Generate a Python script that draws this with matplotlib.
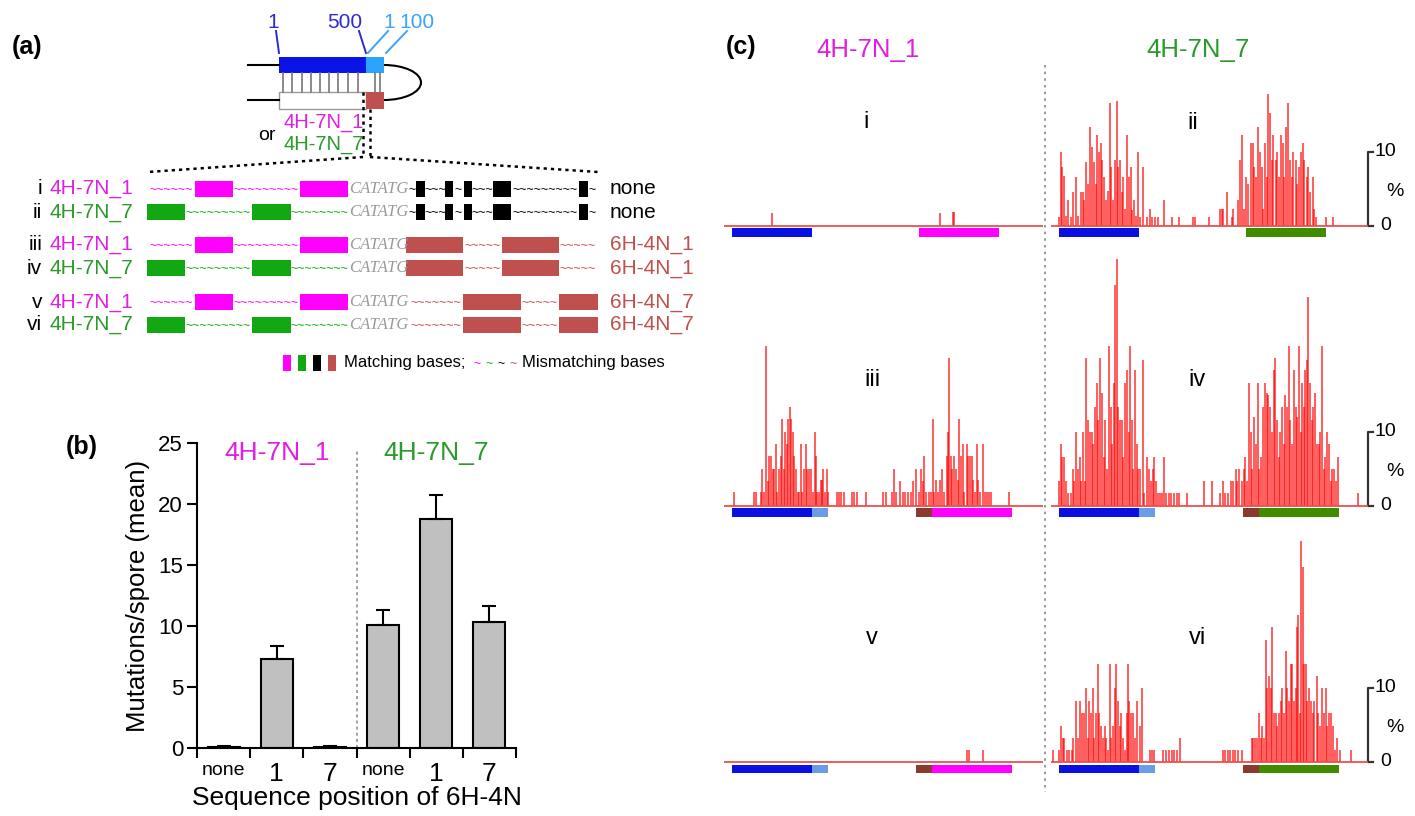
import numpy as np
import matplotlib
matplotlib.use('Agg')
import matplotlib.pyplot as plt
from matplotlib.patches import Rectangle, Arc

plt.rcParams['font.family'] = ['Liberation Sans', 'DejaVu Sans']

W, H = 1415, 816
fig = plt.figure(figsize=(W / 100, H / 100), dpi=100)

# ------------------------------------------------------------------ data (b)
b_categories = ['none', '1', '7', 'none', '1', '7']
b_groups = ['4H-7N_1', '4H-7N_7']
b_means = [0.1, 7.3, 0.1, 10.05, 18.8, 10.35]
b_err = [0.05, 1.1, 0.05, 1.25, 1.9, 1.25]

# ------------------------------------------------------------------ data (c)  (position in bp, mutation %)
i_pos = [250, 1300, 1383, 1390]
i_h = [1.7, 1.7, 1.9, 1.9]

ii_pos = [0, 12, 21, 33, 44, 56, 75, 90, 106, 117, 135, 148, 158, 169, 179, 194, 206, 219, 229, 240,
          250, 260, 271, 283, 294, 304, 319, 327, 339, 350, 362, 371, 381, 392, 402, 415, 427, 437, 448, 458,
          471, 481, 492, 506, 523, 552, 571, 583, 600, 621, 658, 704, 752, 840, 850, 940, 1008, 1017, 1027, 1048,
          1079, 1090, 1117, 1131, 1146, 1156, 1169, 1183, 1198, 1210, 1221, 1231, 1246, 1256, 1267, 1277, 1287, 1298, 1306, 1319,
          1329, 1340, 1354, 1365, 1377, 1385, 1398, 1408, 1419, 1429, 1442, 1454, 1465, 1479, 1490, 1502, 1513, 1523, 1533, 1548,
          1558, 1569, 1585, 1596, 1606, 1667, 1715]
ii_h = [1.2, 10.0, 7.9, 6.7, 1.3, 3.5, 1.2, 4.5, 6.6, 1.3, 4.5, 4.5, 3.5, 8.6, 5.6, 13.4, 10.6, 8.6, 5.6, 12.3,
        10.0, 11.2, 8.9, 6.6, 3.5, 4.7, 16.6, 8.0, 3.5, 8.9, 16.8, 8.0, 8.9, 4.5, 6.6, 2.3, 12.3, 6.6, 7.9, 2.1,
        3.5, 1.3, 10.0, 1.2, 7.9, 1.2, 2.3, 1.2, 1.2, 1.2, 3.5, 1.2, 1.2, 1.2, 1.2, 1.2, 2.3, 2.3, 2.3, 4.6,
        1.2, 2.3, 3.5, 8.9, 12.3, 2.3, 6.6, 5.6, 11.2, 11.2, 7.9, 6.6, 13.4, 10.0, 7.9, 2.3, 11.2, 6.6, 17.8, 15.2,
        8.9, 12.3, 8.9, 10.0, 6.6, 12.3, 11.2, 6.6, 13.4, 16.6, 8.9, 6.6, 10.0, 8.9, 5.6, 7.9, 10.0, 11.2, 8.9, 6.6,
        7.9, 4.5, 6.6, 2.3, 1.2, 1.2, 1.2]

iii_pos = [12, 140, 148, 183, 190, 202, 212, 223, 233, 242, 254, 265, 273, 283, 292, 304, 315, 325, 333, 342,
           352, 362, 371, 379, 390, 400, 410, 421, 429, 440, 450, 460, 471, 479, 492, 504, 517, 525, 533, 544,
           554, 562, 571, 581, 592, 602, 658, 669, 681, 700, 752, 764, 779, 835, 946, 960, 998, 1012, 1023, 1050,
           1067, 1083, 1100, 1117, 1133, 1150, 1167, 1181, 1192, 1202, 1212, 1229, 1242, 1254, 1264, 1275, 1289, 1300, 1312, 1325,
           1342, 1352, 1356, 1367, 1377, 1387, 1400, 1410, 1421, 1431, 1442, 1452, 1467, 1477, 1487, 1498, 1508, 1521, 1531, 1539,
           1550, 1567, 1583, 1596, 1608, 1619, 1731]
iii_h = [1.8, 1.8, 1.8, 1.8, 5.0, 1.8, 21.6, 3.3, 6.7, 6.7, 5.0, 5.0, 8.3, 1.8, 5.0, 6.7, 11.7, 5.0, 10.0, 8.3,
         11.7, 13.4, 11.7, 10.0, 6.7, 5.0, 1.8, 1.8, 8.3, 1.8, 5.0, 8.3, 5.0, 5.0, 5.0, 1.8, 10.0, 6.7, 1.8, 1.8,
         3.5, 3.5, 5.0, 1.8, 5.0, 1.8, 1.8, 1.8, 1.8, 1.8, 1.8, 1.8, 1.8, 1.8, 1.8, 1.8, 1.8, 5.0, 1.8, 3.3,
         1.8, 1.8, 1.8, 1.8, 3.3, 5.0, 1.8, 5.0, 3.3, 6.7, 1.8, 1.8, 1.8, 11.7, 1.8, 3.5, 1.8, 3.5, 5.0, 1.8,
         6.7, 10.0, 20.0, 6.7, 5.0, 6.7, 5.0, 3.5, 11.7, 6.7, 8.3, 1.8, 8.3, 6.7, 6.7, 6.7, 3.5, 1.8, 8.3, 3.5,
         1.8, 8.3, 1.8, 1.8, 1.8, 1.8, 1.8]

iv_pos = [0, 10, 21, 31, 44, 58, 73, 85, 96, 106, 119, 129, 140, 150, 160, 171, 181, 192, 204, 215,
          225, 235, 246, 258, 269, 279, 290, 300, 312, 323, 331, 342, 352, 360, 371, 381, 392, 402, 415, 425,
          435, 444, 454, 464, 475, 485, 494, 506, 523, 533, 548, 560, 573, 585, 596, 606, 619, 631, 644, 656,
          669, 685, 702, 719, 735, 752, 798, 906, 954, 1006, 1027, 1037, 1058, 1075, 1089, 1104, 1114, 1127, 1141, 1154,
          1164, 1175, 1187, 1198, 1208, 1219, 1231, 1242, 1252, 1264, 1275, 1285, 1298, 1308, 1319, 1329, 1341, 1352, 1362, 1373,
          1383, 1394, 1404, 1414, 1425, 1435, 1446, 1456, 1469, 1479, 1489, 1500, 1510, 1521, 1529, 1539, 1548, 1558, 1569, 1579,
          1589, 1600, 1610, 1623, 1633, 1644, 1654, 1664, 1675, 1685, 1698, 1708, 1719, 1729, 1741, 1870]
iv_h = [3.4, 8.4, 6.6, 6.6, 3.4, 1.7, 1.7, 5.0, 3.4, 10.0, 5.0, 6.6, 3.4, 10.0, 3.4, 19.9, 11.6, 10.0, 10.0, 8.4,
        13.4, 16.6, 11.6, 19.9, 15.2, 6.6, 11.6, 5.0, 21.6, 13.4, 8.4, 16.6, 29.8, 33.3, 13.4, 11.6, 11.6, 6.6, 16.6, 18.3,
        10.0, 21.6, 11.6, 5.0, 18.3, 8.4, 5.0, 5.0, 19.7, 1.7, 6.6, 5.0, 3.4, 5.0, 6.6, 3.4, 1.7, 1.7, 1.7, 6.6,
        1.7, 1.7, 1.7, 1.7, 1.7, 1.7, 1.7, 3.4, 3.4, 1.7, 3.4, 1.7, 1.7, 3.4, 3.4, 5.0, 3.4, 5.0, 3.4, 5.0,
        6.6, 3.4, 16.6, 10.0, 5.0, 12.0, 8.4, 16.6, 5.0, 6.6, 13.4, 16.6, 15.2, 15.0, 13.4, 10.0, 18.3, 19.9, 11.6, 6.6,
        10.0, 13.4, 8.4, 15.0, 13.4, 21.6, 11.6, 8.4, 18.3, 13.4, 12.0, 21.6, 10.0, 16.6, 13.4, 18.3, 19.7, 28.2, 16.6, 11.6,
        13.4, 15.2, 8.4, 8.4, 10.0, 21.6, 5.0, 6.6, 10.0, 8.4, 3.4, 5.0, 5.0, 3.4, 6.6, 1.7]

v_pos = [1471, 1483, 1569]
v_h = [1.6, 1.6, 1.6]

vi_pos = [-35, 0, 12, 23, 33, 48, 65, 79, 90, 106, 121, 133, 144, 156, 169, 179, 187, 198, 210, 221,
          231, 242, 252, 262, 273, 285, 294, 304, 317, 327, 337, 348, 358, 369, 379, 390, 400, 412, 423, 429,
          440, 448, 460, 475, 490, 506, 521, 569, 583, 596, 652, 669, 685, 704, 721, 737, 758, 1023, 1037, 1054,
          1069, 1085, 1100, 1119, 1146, 1204, 1214, 1225, 1237, 1250, 1260, 1271, 1281, 1291, 1302, 1312, 1323, 1333, 1344, 1354,
          1364, 1375, 1385, 1396, 1406, 1416, 1427, 1437, 1448, 1458, 1468, 1479, 1487, 1496, 1504, 1512, 1525, 1533, 1541, 1552,
          1562, 1573, 1585, 1596, 1610, 1621, 1631, 1645, 1656, 1666, 1677, 1687, 1698, 1710, 1727, 1739, 1756, 1823]
vi_h = [1.6, 1.6, 4.9, 3.2, 3.2, 1.6, 1.6, 1.6, 3.2, 8.3, 3.2, 8.3, 6.6, 6.6, 10.0, 3.2, 8.3, 6.6, 10.0, 3.2,
        6.6, 13.3, 6.6, 4.9, 3.2, 4.9, 3.2, 1.6, 13.3, 3.2, 4.9, 10.0, 13.3, 8.3, 4.9, 6.6, 3.2, 1.6, 6.6, 13.3,
        8.3, 6.6, 6.6, 3.2, 8.3, 4.9, 10.0, 1.6, 1.6, 1.6, 1.6, 1.6, 1.6, 1.6, 1.6, 1.6, 3.2, 1.6, 1.6, 1.6,
        1.6, 1.6, 1.6, 1.6, 1.6, 3.2, 3.2, 3.2, 3.2, 6.6, 3.2, 4.9, 3.2, 16.5, 10.0, 11.6, 10.0, 18.3, 6.6, 6.6,
        4.9, 6.6, 8.3, 10.0, 6.6, 15.0, 10.0, 8.3, 13.3, 13.3, 8.3, 10.0, 18.3, 19.9, 6.6, 29.9, 26.4, 13.3, 13.3, 8.3,
        10.0, 8.3, 6.6, 8.3, 11.6, 6.6, 4.9, 10.0, 6.6, 10.0, 4.9, 6.6, 6.6, 4.9, 1.6, 3.2, 1.6, 1.6]

c_labels = ['i', 'ii', 'iii', 'iv', 'v', 'vi']
c_series = [(i_pos, i_h), (ii_pos, ii_h), (iii_pos, iii_h), (iv_pos, iv_h), (v_pos, v_h), (vi_pos, vi_h)]

# ------------------------------------------------------------------ colours
MAG = '#ff00ff'
MAG_T = '#e11fe1'
GRN = '#12a812'
GRN_T = '#2a9a2a'
BRK = '#c0504d'
BLUE = '#0a14e6'
LBLUE = '#2aa4ff'
C_BLUE = '#0a10e0'
C_LBLUE = '#6b9ce8'
C_BROWN = '#8b3a2f'
C_MAG = '#ff00ff'
C_GRN = '#3f8c00'
RED = '#ff0000'
BASE_RED = '#e8504c'


def px_axes(l, t, r, b):
    return fig.add_axes([l / W, 1 - b / H, (r - l) / W, (b - t) / H])


# ------------------------------------------------------------------ overlay (schematic / labels)
ov = fig.add_axes([0, 0, 1, 1])
ov.set_xlim(0, W)
ov.set_ylim(H, 0)
ov.axis('off')

ov.text(27, 47, '(a)', fontsize=18, fontweight='bold', ha='center', va='center')
ov.text(82, 447, '(b)', fontsize=18, fontweight='bold', ha='center', va='center')
ov.text(741, 47, '(c)', fontsize=18, fontweight='bold', ha='center', va='center')

# hairpin
ov.plot([248, 279], [65, 65], color='black', lw=1.5)
ov.plot([248, 279], [100, 100], color='black', lw=1.5)
ov.add_patch(Rectangle((279, 57), 87, 16, color=BLUE, lw=0))
ov.add_patch(Rectangle((366, 57), 18, 16, color=LBLUE, lw=0))
ov.add_patch(Rectangle((279, 92), 87, 17, facecolor='white', edgecolor='#9a9a9a', lw=1))
ov.add_patch(Rectangle((366, 92), 18, 17, color=BRK, lw=0))
ov.add_patch(Arc((384, 82.5), 74, 35, theta1=-90, theta2=90, color='black', lw=1.5))
for xr in [283, 292, 302, 311, 320, 329, 338, 348, 358, 375, 380]:
    ov.plot([xr, xr], [73, 92], color='#777777', lw=1.2)
ov.text(273, 22, '1', color='#2a2ad6', fontsize=15, ha='center', va='center')
ov.text(345, 22, '500', color='#2a2ad6', fontsize=15, ha='center', va='center')
ov.text(389, 22, '1', color='#3aa2ff', fontsize=15, ha='center', va='center')
ov.text(417, 22, '100', color='#3aa2ff', fontsize=15, ha='center', va='center')
ov.plot([276, 279], [31, 53], color='#2a2ad6', lw=1.4)
ov.plot([359, 366], [31, 53], color='#2a2ad6', lw=1.4)
ov.plot([388, 368], [31, 53], color='#3aa2ff', lw=1.4)
ov.plot([407, 386], [31, 53], color='#3aa2ff', lw=1.4)
ov.text(267, 135, 'or', fontsize=14, ha='center', va='center')
ov.text(283, 123, '4H-7N_1', color=MAG_T, fontsize=14.5, ha='left', va='center')
ov.text(283, 144, '4H-7N_7', color=GRN_T, fontsize=14.5, ha='left', va='center')
dot = (0, (1.3, 1.6))
ov.plot([363, 363], [92, 157], color='black', lw=1.8, ls=dot)
ov.plot([370, 370], [109, 157], color='black', lw=1.8, ls=dot)
ov.plot([363, 148], [157, 172], color='black', lw=1.8, ls=dot)
ov.plot([370, 598], [157, 172], color='black', lw=1.8, ls=dot)

# sequence rows
pat_4H1 = [('t', 148, 195), ('b', 195, 233), ('t', 233, 300), ('b', 300, 348)]
pat_4H7 = [('b', 147, 185), ('t', 185, 252), ('b', 252, 291), ('t', 291, 348)]
pat_none = [('t', 409, 416), ('b', 416, 425), ('t', 425, 445), ('b', 445, 453), ('t', 453, 464),
            ('b', 464, 472), ('t', 472, 493), ('b', 493, 511), ('t', 511, 579), ('b', 579, 588), ('t', 588, 597)]
pat_6H1 = [('b', 406, 463), ('t', 463, 502), ('b', 502, 559), ('t', 559, 597)]
pat_6H7 = [('t', 409, 463), ('b', 463, 521), ('t', 521, 559), ('b', 559, 598)]

a_rows = [('i', '4H-7N_1', 189, 'none'), ('ii', '4H-7N_7', 212, 'none'),
          ('iii', '4H-7N_1', 245, '6H-4N_1'), ('iv', '4H-7N_7', 268, '6H-4N_1'),
          ('v', '4H-7N_1', 302, '6H-4N_7'), ('vi', '4H-7N_7', 325, '6H-4N_7')]


def draw_pattern(pat, y, bcol, tcol):
    for kind, x0, x1 in pat:
        if kind == 'b':
            ov.add_patch(Rectangle((x0, y - 8), x1 - x0, 16, color=bcol, lw=0))
        else:
            n = max(1, int(round((x1 - x0) / 7.4)))
            ov.text((x0 + x1) / 2, y + 1, '~' * n, color=tcol, fontsize=9, ha='center', va='center')


for rn, left, y, right in a_rows:
    ov.text(42, y, rn, fontsize=15, ha='right', va='center')
    if left == '4H-7N_1':
        ov.text(50, y, left, color=MAG_T, fontsize=15, ha='left', va='center')
        draw_pattern(pat_4H1, y, MAG, MAG)
    else:
        ov.text(50, y, left, color=GRN_T, fontsize=15, ha='left', va='center')
        draw_pattern(pat_4H7, y, GRN, GRN)
    ov.text(349, y, 'CATATG', color='#9a9a9a', fontsize=12, fontstyle='italic',
            family=['Liberation Serif', 'DejaVu Serif'], ha='left', va='center')
    if right == 'none':
        draw_pattern(pat_none, y, 'black', 'black')
        ov.text(610, y, right, color='black', fontsize=15, ha='left', va='center')
    else:
        draw_pattern(pat_6H1 if right == '6H-4N_1' else pat_6H7, y, BRK, BRK)
        ov.text(610, y, right, color=BRK, fontsize=15, ha='left', va='center')

# legend of (a)
ly = 363
for xc, col in [(283, MAG), (298, GRN), (313, 'black'), (328, BRK)]:
    ov.add_patch(Rectangle((xc, ly - 8), 8, 16, color=col, lw=0))
ov.text(344, ly, 'Matching bases;', fontsize=12, ha='left', va='center')
for xc, col in [(477, MAG), (489, GRN), (501, 'black'), (513, BRK)]:
    ov.text(xc, ly + 1, '~', fontsize=9, color=col, ha='center', va='center')
ov.text(522, ly, 'Mismatching bases', fontsize=12, ha='left', va='center')

# ------------------------------------------------------------------ panel (b)
ax = px_axes(197, 443, 516, 748)
xb = np.arange(len(b_means))
ax.bar(xb, b_means, width=0.6, color='#c0c0c0', edgecolor='black', lw=1.5, zorder=2)
ax.errorbar(xb, b_means, yerr=[np.zeros(len(b_err)), b_err], fmt='none', ecolor='black',
            elinewidth=1.5, capsize=5, capthick=1.5, zorder=3)
ax.set_xlim(-0.5, 5.5)
ax.set_ylim(0, 25)
for s in ['top', 'right']:
    ax.spines[s].set_visible(False)
for s in ['left', 'bottom']:
    ax.spines[s].set_linewidth(1.5)
ax.set_yticks([0, 5, 10, 15, 20, 25])
ax.tick_params(axis='y', direction='out', length=7, width=1.5, labelsize=16, pad=3)
ax.set_xticks(xb)
ax.set_xticklabels(b_categories)
ax.set_xticks(np.arange(-0.5, 6, 1.0), minor=True)
ax.tick_params(axis='x', which='major', length=0, pad=10)
ax.tick_params(axis='x', which='minor', direction='out', length=7, width=1.5)
for lab in ax.get_xticklabels():
    lab.set_fontsize(14 if lab.get_text() == 'none' else 19)
ax.set_xlabel('Sequence position of 6H-4N', fontsize=19, labelpad=0)
ax.set_ylabel('Mutations/spore (mean)', fontsize=18.5, labelpad=6)
ax.plot([2.5, 2.5], [0, 24.4], color='#888888', lw=1.1, ls=(0, (2, 2)), zorder=1)
ax.text(1, 24.2, b_groups[0], color=MAG_T, fontsize=19, ha='center', va='center')
ax.text(4, 24.2, b_groups[1], color=GRN_T, fontsize=19, ha='center', va='center')

# ------------------------------------------------------------------ panel (c)
PX_BP = 0.16
PX_PCT = 7.4
col_origin = [732, 1059]
col_xlim = [(-50, 1944), (-50, 1931)]
row_base = [225.7, 505.7, 762.0]
row_ylim = [(-2.6, 20), (-2.6, 35), (-2.6, 32)]
col_colors = [C_MAG, C_GRN]

for k, (pos, hts) in enumerate(c_series):
    r, c = k // 2, k % 2
    x0, x1 = col_xlim[c]
    y0, y1 = row_ylim[r]
    o = col_origin[c]
    base = row_base[r]
    axc = px_axes(o + x0 * PX_BP, base - y1 * PX_PCT, o + x1 * PX_BP, base - y0 * PX_PCT)
    axc.set_xlim(x0, x1)
    axc.set_ylim(y0, y1)
    axc.axis('off')
    axc.bar(pos, hts, width=12, color=RED, alpha=0.62, lw=0, zorder=2)
    axc.plot([x0, x1], [0, 0], color=BASE_RED, lw=1.3, zorder=3)
    axc.add_patch(Rectangle((0, -1.55), 500, 1.2, color=C_BLUE, lw=0))
    if r == 0:
        axc.add_patch(Rectangle((1169, -1.55), 500, 1.2, color=col_colors[c], lw=0))
    else:
        axc.add_patch(Rectangle((500, -1.55), 100, 1.2, color=C_LBLUE, lw=0))
        axc.add_patch(Rectangle((1150, -1.55), 100, 1.2, color=C_BROWN, lw=0))
        axc.add_patch(Rectangle((1250, -1.55), 500, 1.2, color=col_colors[c], lw=0))
    if c == 1:
        axc.plot([1962, 1931, 1931, 1962], [10, 10, 0, 0], color='#333333', lw=1.6, clip_on=False)
        axc.text(2040, 10, '10', fontsize=14, ha='center', va='center', clip_on=False)
        axc.text(2040, 0, '0', fontsize=14, ha='center', va='center', clip_on=False)
        axc.text(2100, 4.6, '%', fontsize=14, ha='center', va='center', clip_on=False)

for lab, (xl, yl) in zip(c_labels, [(866, 122), (1193, 123), (872, 380), (1197, 380), (872, 638), (1198, 638)]):
    ov.text(xl, yl, lab, fontsize=17, ha='center', va='center')

ov.text(868, 50, '4H-7N_1', color=MAG_T, fontsize=18.5, ha='center', va='center')
ov.text(1198, 50, '4H-7N_7', color=GRN_T, fontsize=18.5, ha='center', va='center')
ov.plot([1045, 1045], [65, 792], color='#888888', lw=1.2, ls=(0, (1.5, 2.5)))

fig.savefig('out.png', dpi=100)
